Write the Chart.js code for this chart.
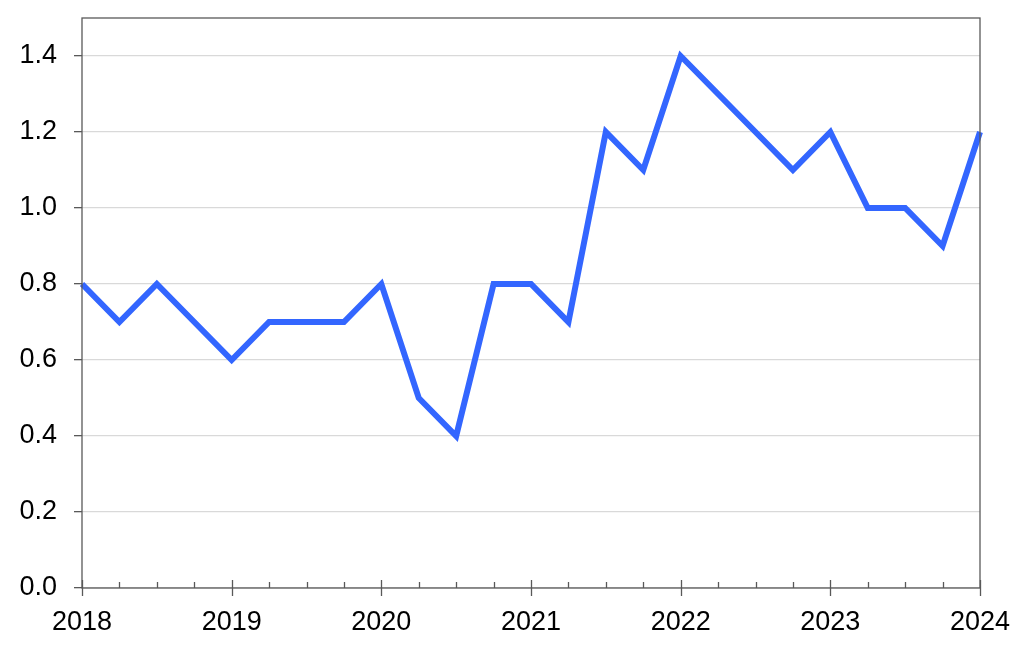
<!DOCTYPE html>
<html>
<head>
<meta charset="utf-8">
<script src="https://cdn.jsdelivr.net/npm/chart.js@4"></script>
<style>
html,body{margin:0;padding:0;background:#fff;}
#wrap{width:1024px;height:649px;}
</style>
</head>
<body>
<div id="wrap"><canvas id="c" width="1024" height="649"></canvas></div>
<script>
const quarters = ['2018Q1','2018Q2','2018Q3','2018Q4','2019Q1','2019Q2','2019Q3','2019Q4','2020Q1','2020Q2','2020Q3','2020Q4','2021Q1','2021Q2','2021Q3','2021Q4','2022Q1','2022Q2','2022Q3','2022Q4','2023Q1','2023Q2','2023Q3','2023Q4','2024Q1'];
const values = [0.8,0.7,0.8,0.7, 0.6,0.7,0.7,0.7, 0.8,0.5,0.4,0.8, 0.8,0.7,1.2,1.1, 1.4,1.3,1.2,1.1, 1.2,1.0,1.0,0.9, 1.2];
const yTicks = [0,0.2,0.4,0.6,0.8,1.0,1.2,1.4];

const FONT = "'Liberation Sans', Arial, sans-serif";

const frame = {
  id: 'frame',
  afterDraw(chart) {
    const ctx = chart.ctx, a = chart.chartArea, xs = chart.scales.x;
    ctx.save();
    ctx.strokeStyle = '#595959';
    ctx.lineWidth = 1.3;
    ctx.strokeRect(a.left, a.top, a.right - a.left, a.bottom - a.top);
    for (let i = 0; i < quarters.length; i++) {
      const px = Math.round(xs.getPixelForTick(i)) + 0.5;
      ctx.beginPath();
      if (quarters[i].endsWith('Q1')) {
        ctx.moveTo(px, a.bottom - 8); ctx.lineTo(px, a.bottom + 8);
      } else {
        ctx.moveTo(px, a.bottom - 6); ctx.lineTo(px, a.bottom);
      }
      ctx.stroke();
    }
    ctx.restore();
  }
};

new Chart(document.getElementById('c'), {
  type: 'line',
  data: {
    labels: quarters,
    datasets: [{
      data: values,
      borderColor: '#3366ff',
      borderWidth: 6,
      borderJoinStyle: 'miter',
      borderCapStyle: 'butt',
      pointRadius: 0,
      tension: 0,
      fill: false
    }]
  },
  options: {
    responsive: false,
    animation: false,
    devicePixelRatio: 1,
    layout: { padding: { left: 0, right: 44, top: 18, bottom: 0 } },
    plugins: { legend: { display: false }, tooltip: { enabled: false } },
    scales: {
      x: {
        type: 'category',
        offset: false,
        grid: { display: false },
        border: { display: false },
        ticks: {
          autoSkip: false,
          maxRotation: 0,
          minRotation: 0,
          padding: 10,
          color: '#000',
          font: { family: FONT, size: 27 },
          callback: function (v, i) { return quarters[i].endsWith('Q1') ? quarters[i].slice(0, 4) : ''; }
        },
        afterFit(s) { s.height = 61; s.paddingLeft = 0; s.paddingRight = 0; }
      },
      y: {
        min: 0,
        max: 1.5,
        afterBuildTicks(s) { s.ticks = yTicks.map(v => ({ value: v })); },
        grid: {
          color: '#d9d9d9',
          lineWidth: 1.3,
          tickColor: '#595959',
          tickLength: 8
        },
        border: { display: false },
        ticks: {
          padding: 17,
          color: '#000',
          font: { family: FONT, size: 27 },
          callback: v => Number(v).toFixed(1)
        },
        afterFit(s) { s.width = 82; s.paddingTop = 0; s.paddingBottom = 0; }
      }
    }
  },
  plugins: [frame]
});
</script>
</body>
</html>
